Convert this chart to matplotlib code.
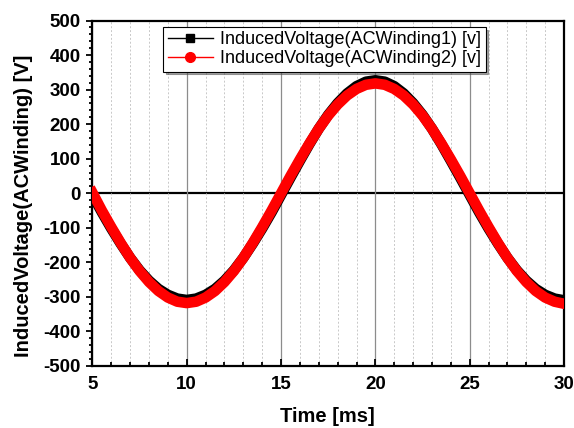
import matplotlib
matplotlib.use("Agg")
from matplotlib import pyplot as plt
from matplotlib.lines import Line2D
from matplotlib.ticker import MultipleLocator

plt.rcParams['font.family'] = ['Liberation Sans', 'DejaVu Sans']
plt.rcParams['axes.unicode_minus'] = False

# time axis, ms (0.5 ms steps)
time_ms = [5 + 0.5 * i for i in range(51)]

# Induced voltage, AC winding 1 (black squares)
winding1 = [-5, -55, -102, -146, -187, -223, -253, -277, -294, -305,
            -309, -305, -294, -277, -253, -223, -187, -146, -102, -55,
            -5, 45, 94, 142, 187, 227, 261, 289, 310, 323,
            327, 323, 310, 289, 261, 227, 187, 142, 94, 45,
            -5, -55, -102, -146, -187, -223, -253, -277, -294, -305,
            -310]

# Induced voltage, AC winding 2 (red circles)
winding2 = [2, -50, -98, -144, -187, -225, -257, -283, -302, -314,
            -318, -314, -302, -283, -257, -225, -187, -144, -98, -50,
            0, 50, 98, 144, 187, 225, 257, 283, 302, 314,
            318, 314, 302, 283, 257, 225, 187, 144, 98, 50,
            0, -50, -98, -144, -187, -225, -257, -283, -302, -314,
            -320]

labels = ['InducedVoltage(ACWinding1) [v]', 'InducedVoltage(ACWinding2) [v]']

fig = plt.figure(figsize=(5.74, 4.28), dpi=100)
ax = fig.add_axes([0.161, 0.145, 0.8216, 0.807])

# grid: vertical only, plus zero line
ax.xaxis.set_major_locator(MultipleLocator(5))
ax.xaxis.set_minor_locator(MultipleLocator(1))
ax.yaxis.set_major_locator(MultipleLocator(100))
ax.yaxis.set_minor_locator(MultipleLocator(20))
ax.grid(True, axis='x', which='major', color='#8c8c8c', lw=0.9, ls='-', zorder=0)
ax.grid(True, axis='x', which='minor', color='#c8c8c8', lw=0.7, ls=(0, (2, 2)), zorder=0)
ax.axhline(0, color='black', lw=1.6, zorder=1)

# dense marker bands drawn as thick lines
ax.plot(time_ms, winding1, color='black', lw=7.6, solid_joinstyle='round', zorder=2)
ax.plot(time_ms, winding2, color='red', lw=7.6, solid_joinstyle='round', zorder=3)

ax.set_xlim(5, 30)
ax.set_ylim(-500, 500)

ax.set_xlabel('Time [ms]', fontsize=14.5, fontweight='bold')
ax.set_ylabel('InducedVoltage(ACWinding) [V]', fontsize=14.5, fontweight='bold')
ax.xaxis.set_label_coords(0.498, -0.119)
ax.yaxis.set_label_coords(-0.126, 0.465)

for s in ax.spines.values():
    s.set_linewidth(1.6)

ax.tick_params(axis='x', which='major', direction='in', length=5, width=1.3,
               labelsize=13.5, pad=7)
ax.tick_params(axis='x', which='minor', direction='in', length=3, width=1.3)
ax.tick_params(axis='y', which='major', direction='out', length=4.5, width=1.3,
               labelsize=13.5, pad=4)
ax.tick_params(axis='y', which='minor', direction='out', length=2.5, width=1.3)
for t in ax.get_xticklabels() + ax.get_yticklabels():
    t.set_fontweight('bold')

handles = [Line2D([], [], color='black', lw=1, marker='s', markersize=6),
           Line2D([], [], color='red', lw=1, marker='o', markersize=7)]
leg = ax.legend(handles, labels, loc='upper center', bbox_to_anchor=(0.492, 0.982),
                borderaxespad=0, fontsize=13, frameon=True, fancybox=False,
                shadow=True, handlelength=2.5, handletextpad=0.4,
                labelspacing=0.1, borderpad=0.25)
leg.get_frame().set_edgecolor('black')
leg.get_frame().set_linewidth(0.8)

plt.savefig('out.png', dpi=100)
